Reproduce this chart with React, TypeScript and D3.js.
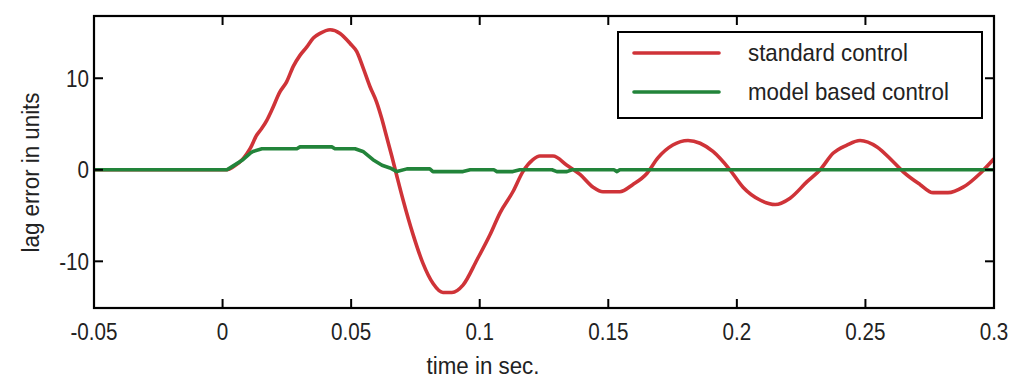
import React from "react";
import * as d3 from "d3";

const xTicks = [-0.05, 0, 0.05, 0.1, 0.15, 0.2, 0.25, 0.3];
const xTickLabels = ["-0.05", "0", "0.05", "0.1", "0.15", "0.2", "0.25", "0.3"];
const yTicks = [-10, 0, 10];
const yTickLabels = ["-10", "0", "10"];

const seriesNames = ["standard control", "model based control"];
const seriesColors = ["#cf3338", "#22843a"];

const timeStd = [
  -0.05, 0, 0.0016, 0.0042, 0.0081, 0.0107, 0.0133, 0.0152, 0.0172, 0.0191, 0.0223, 0.0249,
  0.0275, 0.0301, 0.0327, 0.0353, 0.0379, 0.0418, 0.0457, 0.0496, 0.0522, 0.0547, 0.0573,
  0.0599, 0.0619, 0.0638, 0.0658, 0.0677, 0.0702, 0.074, 0.0779, 0.0818, 0.0857,
  0.0892, 0.0935, 0.099, 0.104, 0.1079, 0.1129, 0.1168, 0.1207, 0.1234, 0.1285, 0.1339,
  0.139, 0.1441, 0.1479, 0.1545, 0.1596, 0.165, 0.1693, 0.1751, 0.181, 0.1857, 0.1907,
  0.1973, 0.2024, 0.209, 0.2149, 0.2207, 0.2273, 0.2324, 0.2374, 0.2428, 0.2479, 0.2545,
  0.2607, 0.2646, 0.2712, 0.2763, 0.2821, 0.288, 0.2946, 0.3,
];
const lagStd = [
  0, 0, 0, 0.33, 1.25, 2.3, 3.8, 4.5, 5.4, 6.5, 8.5, 9.6,
  11.3, 12.5, 13.4, 14.4, 14.9, 15.3, 14.9, 13.8, 12.9, 11.1, 9.1,
  7.4, 5.6, 3.6, 1.5, -0.6, -3.3, -7.0, -10.2, -12.4, -13.4,
  -13.4, -12.6, -9.8, -7.1, -4.7, -2.4, -0.2, 1.1, 1.5, 1.5, 0.5,
  -0.5, -1.9, -2.4, -2.4, -1.6, -0.4, 1.3, 2.7, 3.2, 2.9, 2.0,
  0, -1.9, -3.3, -3.8, -3.1, -1.3, 0, 1.8, 2.7, 3.2, 2.5,
  0.9, -0.2, -1.6, -2.5, -2.5, -1.9, -0.4, 1.2,
];

const timeModel = [
  -0.05, 0, 0.0017, 0.004, 0.0079, 0.0107, 0.0118, 0.0153, 0.0289, 0.0301, 0.0425, 0.0437,
  0.0515, 0.0546, 0.0585, 0.062, 0.0651, 0.0678, 0.0717, 0.0806, 0.0818, 0.0935, 0.0963,
  0.1055, 0.1067, 0.1129, 0.1156, 0.1281, 0.13, 0.1339, 0.1359, 0.1522, 0.1534, 0.1545, 0.3,
];
const lagModel = [
  0, 0, 0, 0.4, 1.1, 1.8, 2.0, 2.3, 2.3, 2.5, 2.5, 2.3,
  2.3, 2.0, 1.1, 0.5, 0.2, -0.2, 0.1, 0.1, -0.2, -0.2, 0,
  0, -0.2, -0.2, 0, 0, -0.2, -0.2, 0, 0, -0.2, 0, 0,
];

const W = 1024;
const H = 386;
const M = { left: 94, right: 994, top: 16, bottom: 308 };
const FONT = "'Liberation Sans', Arial, sans-serif";

export default function App() {
  const x = d3.scaleLinear().domain([-0.05, 0.3]).range([M.left, M.right]);
  const y = d3.scaleLinear().domain([-15.1, 16.8]).range([M.bottom, M.top]);

  const stdData = timeStd.map((t, i) => [t, lagStd[i]] as [number, number]);
  const modelData = timeModel.map((t, i) => [t, lagModel[i]] as [number, number]);

  const lineSmooth = d3
    .line<[number, number]>()
    .x((d) => x(d[0]))
    .y((d) => y(d[1]))
    .curve(d3.curveMonotoneX);
  const lineLin = d3
    .line<[number, number]>()
    .x((d) => x(d[0]))
    .y((d) => y(d[1]));

  const tickLen = 9;
  const legend = { x0: 618, x1: 982, y0: 32, y1: 118 };
  const legendRows = [53, 92];

  return (
    <svg
      width={W}
      height={H}
      style={{ position: "absolute", left: 0, top: 0, background: "#fff" }}
    >
      <defs>
        <clipPath id="plotClip">
          <rect x={M.left} y={M.top} width={M.right - M.left} height={M.bottom - M.top} />
        </clipPath>
      </defs>
      <rect x={0} y={0} width={W} height={H} fill="#fff" />

      <g clipPath="url(#plotClip)">
        <path
          d={lineSmooth(stdData) || ""}
          fill="none"
          stroke={seriesColors[0]}
          strokeWidth={3.6}
          strokeLinejoin="round"
        />
        <path
          d={lineLin(modelData) || ""}
          fill="none"
          stroke={seriesColors[1]}
          strokeWidth={3.6}
          strokeLinejoin="round"
        />
      </g>

      <rect
        x={M.left}
        y={M.top}
        width={M.right - M.left}
        height={M.bottom - M.top}
        fill="none"
        stroke="#000"
        strokeWidth={2.2}
      />

      {xTicks.map((t, i) => (
        <g key={"xt" + i}>
          <line x1={x(t)} x2={x(t)} y1={M.bottom} y2={M.bottom - tickLen} stroke="#000" strokeWidth={2} />
          <line x1={x(t)} x2={x(t)} y1={M.top} y2={M.top + tickLen} stroke="#000" strokeWidth={2} />
          <text
            transform={`translate(${x(t)},${340}) scale(0.86,1)`}
            textAnchor="middle"
            fontFamily={FONT}
            fontSize={24}
            fill="#222"
          >
            {xTickLabels[i]}
          </text>
        </g>
      ))}

      {yTicks.map((v, i) => (
        <g key={"yt" + i}>
          <line x1={M.left} x2={M.left + tickLen} y1={y(v)} y2={y(v)} stroke="#000" strokeWidth={2} />
          <line x1={M.right} x2={M.right - tickLen} y1={y(v)} y2={y(v)} stroke="#000" strokeWidth={2} />
          <text
            transform={`translate(${89},${y(v) + 8.6}) scale(0.86,1)`}
            textAnchor="end"
            fontFamily={FONT}
            fontSize={24}
            fill="#222"
          >
            {yTickLabels[i]}
          </text>
        </g>
      ))}

      <text
        transform={`translate(483,374) scale(0.93,1)`}
        textAnchor="middle"
        fontFamily={FONT}
        fontSize={24}
        fill="#222"
      >
        time in sec.
      </text>
      <text
        transform={`translate(39,172.5) rotate(-90) scale(0.93,1)`}
        textAnchor="middle"
        fontFamily={FONT}
        fontSize={24}
        fill="#222"
      >
        lag error in units
      </text>

      <rect
        x={legend.x0}
        y={legend.y0}
        width={legend.x1 - legend.x0}
        height={legend.y1 - legend.y0}
        fill="#fff"
        stroke="#000"
        strokeWidth={2}
      />
      {seriesNames.map((name, i) => (
        <g key={"lg" + i}>
          <line
            x1={634}
            x2={719}
            y1={legendRows[i]}
            y2={legendRows[i]}
            stroke={seriesColors[i]}
            strokeWidth={3.6}
            strokeLinecap="round"
          />
          <text
            transform={`translate(748,${legendRows[i] + 7.5}) scale(0.93,1)`}
            fontFamily={FONT}
            fontSize={24}
            fill="#222"
          >
            {name}
          </text>
        </g>
      ))}
    </svg>
  );
}
